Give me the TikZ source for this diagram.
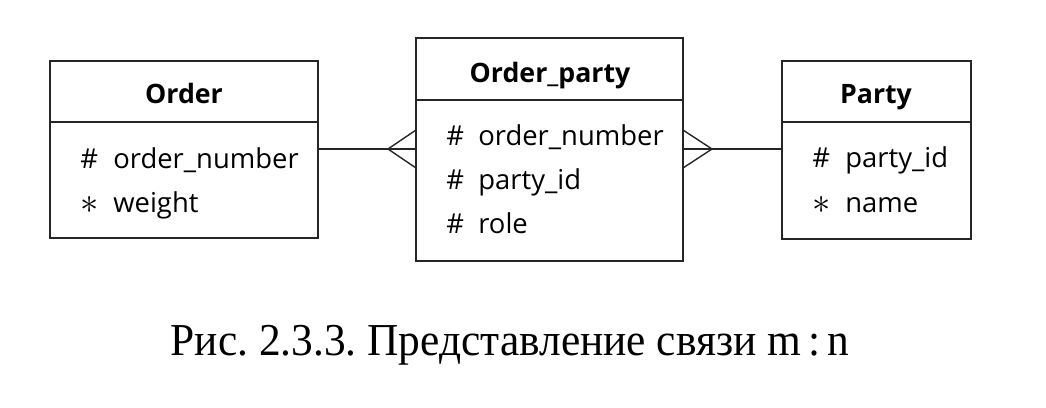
\documentclass[tikz,border=0pt]{standalone}
\usepackage{fontspec}
\setmainfont{Open Sans}
\newfontfamily\capfont{Liberation Serif}
\frenchspacing
\begin{document}
\begin{tikzpicture}[x=0.02cm,y=-0.02cm,
  box/.style={draw=black!85,line width=0.8pt},
  conn/.style={draw=black!85,line width=0.8pt},
  ttl/.style={font=\fontsize{15.2}{17}\selectfont\bfseries,inner sep=0pt,anchor=base},
  attr/.style={font=\fontsize{15.6}{18}\selectfont,inner sep=0pt,anchor=base west},
  sym/.style={font=\fontsize{15.6}{18}\selectfont,inner sep=0pt,anchor=base west}]
\useasboundingbox (0,0) rectangle (1046,407);
% Order
\draw[box] (50,61) rectangle (318,238);
\draw[box] (50,122) -- (318,122);
\node[ttl] (ot) at (184,103) {Order};
\node[sym] (os1) at (80,168) {\#};
\node[attr] (oa1) at (113,168) {order\_number};
\node[sym] (os2) at (80,213) {\fontsize{20}{20}\selectfont$\ast$};
\node[attr] (oa2) at (113,212) {weight};
\coordinate (oR) at (318,149);
% Order_party
\draw[box] (416,38) rectangle (683,261);
\draw[box] (416,100) -- (683,100);
\node[ttl] (pt) at (550,82) {Order\_party};
\node[sym] (ps1) at (446,145) {\#};
\node[attr] (pa1) at (478,145) {order\_number};
\node[sym] (ps2) at (446,189) {\#};
\node[attr] (pa2) at (478,189) {party\_id};
\node[sym] (ps3) at (446,233) {\#};
\node[attr] (pa3) at (478,233) {role};
\coordinate (pL) at (416,149);
\coordinate (pR) at (683,149);
\coordinate (pLu) at (416,130);
\coordinate (pLd) at (416,168);
\coordinate (pRu) at (683,130);
\coordinate (pRd) at (683,168);
\coordinate (cl) at (388,149);
\coordinate (cr) at (712,149);
% Party
\draw[box] (782,61) rectangle (971,239);
\draw[box] (782,122) -- (971,122);
\node[ttl] (yt) at (876,103) {Party};
\node[sym] (ys1) at (812,167) {\#};
\node[attr] (ya1) at (845,167) {party\_id};
\node[sym] (ys2) at (812,213) {\fontsize{20}{20}\selectfont$\ast$};
\node[attr] (ya2) at (845,212) {name};
\coordinate (yL) at (782,149);
% connectors
\draw[conn] (oR) -- (pL);
\draw[conn] (pLu) -- (cl) -- (pLd);
\draw[conn] (pR) -- (yL);
\draw[conn] (pRu) -- (cr) -- (pRd);
% caption
\node[inner sep=0pt,anchor=base] (cap) at (510,355) {\scalebox{0.95}[1]{\capfont\fontsize{26}{30}\selectfont Рис. 2.3.3. Представление связи m\,:\,n}};
\end{tikzpicture}
\end{document}
